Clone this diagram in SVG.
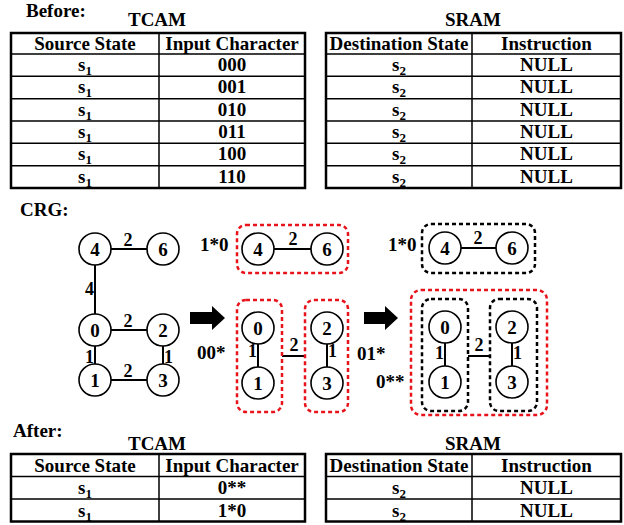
<svg xmlns="http://www.w3.org/2000/svg" width="624" height="525" viewBox="0 0 624 525">
<defs>
<style>
text{font-family:"Liberation Serif","Times New Roman",serif;font-weight:bold;fill:#000}
.t{font-size:19px}
.h{font-size:19px;text-anchor:middle}
.sub{font-size:13px}
.outer{fill:#fff;stroke:#000;stroke-width:2.5}
.grid{stroke:#000;stroke-width:1.5;fill:none}
.node circle{fill:#fff;stroke:#000;stroke-width:1.6}
.node text{font-size:19px;text-anchor:middle}
.edge{stroke:#000;stroke-width:2;fill:none}
.el{font-size:18px}
.lab{font-size:19px}
.red{fill:none;stroke:#e8141c;stroke-width:2.5;stroke-dasharray:4 3}
.blk{fill:none;stroke:#000;stroke-width:2.5;stroke-dasharray:4 3}
</style>
</defs>
<rect width="624" height="525" fill="#fff"/>

<!-- Before section -->
<text class="t" x="26" y="17">Before:</text>
<text class="h" x="157" y="26">TCAM</text>
<text class="h" x="473" y="26">SRAM</text>

<g id="tcam-before">
<rect class="outer" x="11" y="33" width="294" height="155"/>
<path class="grid" d="M159 33V188M11 54H305M11 76.3H305M11 98.7H305M11 121H305M11 143.3H305M11 165.7H305"/>
<text class="h" x="85" y="50">Source State</text>
<text class="h" x="232" y="50">Input Character</text>
<text class="h" x="85" y="71">s<tspan class="sub" dy="4">1</tspan></text>
<text class="h" x="85" y="93.3">s<tspan class="sub" dy="4">1</tspan></text>
<text class="h" x="85" y="115.7">s<tspan class="sub" dy="4">1</tspan></text>
<text class="h" x="85" y="138">s<tspan class="sub" dy="4">1</tspan></text>
<text class="h" x="85" y="160.3">s<tspan class="sub" dy="4">1</tspan></text>
<text class="h" x="85" y="182.7">s<tspan class="sub" dy="4">1</tspan></text>
<text class="h" x="232" y="71">000</text>
<text class="h" x="232" y="93.3">001</text>
<text class="h" x="232" y="115.7">010</text>
<text class="h" x="232" y="138">011</text>
<text class="h" x="232" y="160.3">100</text>
<text class="h" x="232" y="182.7">110</text>
</g>

<g id="sram-before">
<rect class="outer" x="326" y="33" width="295" height="155"/>
<path class="grid" d="M472 33V188M326 54H621M326 76.3H621M326 98.7H621M326 121H621M326 143.3H621M326 165.7H621"/>
<text class="h" x="399" y="50">Destination State</text>
<text class="h" x="546.5" y="50">Instruction</text>
<text class="h" x="399" y="71">s<tspan class="sub" dy="4">2</tspan></text>
<text class="h" x="399" y="93.3">s<tspan class="sub" dy="4">2</tspan></text>
<text class="h" x="399" y="115.7">s<tspan class="sub" dy="4">2</tspan></text>
<text class="h" x="399" y="138">s<tspan class="sub" dy="4">2</tspan></text>
<text class="h" x="399" y="160.3">s<tspan class="sub" dy="4">2</tspan></text>
<text class="h" x="399" y="182.7">s<tspan class="sub" dy="4">2</tspan></text>
<text class="h" x="546.5" y="71">NULL</text>
<text class="h" x="546.5" y="93.3">NULL</text>
<text class="h" x="546.5" y="115.7">NULL</text>
<text class="h" x="546.5" y="138">NULL</text>
<text class="h" x="546.5" y="160.3">NULL</text>
<text class="h" x="546.5" y="182.7">NULL</text>
</g>

<!-- CRG -->
<text class="t" x="20" y="216">CRG:</text>

<g id="connectors">
<!-- graph 1 -->
<path class="edge" d="M111 249H147M95 265V314M111 330H147M95 346V364M163 346V364M111 380H147"/>
<!-- graph 2 -->
<path class="edge" d="M274 249H311M258 344V367M327 344V367M282 356H305"/>
<!-- graph 3 -->
<path class="edge" d="M461 248H496M445 343V366M512 343V366M468 356H490"/>
<!-- arrows -->
<path d="M190 312H212V306L225 318L212 330V324H190Z" fill="#000"/>
<path d="M364 312H385V306L398 318L385 330V324H364Z" fill="#000"/>
</g>

<g id="edge-labels">
<text class="el" x="128" y="246" text-anchor="middle">2</text>
<text class="el" x="94" y="295" text-anchor="end">4</text>
<text class="el" x="128" y="327" text-anchor="middle">2</text>
<text class="el" x="94" y="363" text-anchor="end">1</text>
<text class="el" x="164" y="363">1</text>
<text class="el" x="128" y="377" text-anchor="middle">2</text>

<text class="el" x="293" y="245" text-anchor="middle">2</text>
<text class="el" x="257" y="357" text-anchor="end">1</text>
<text class="el" x="328" y="357">1</text>
<text class="el" x="294" y="351" text-anchor="middle">2</text>

<text class="el" x="478" y="244" text-anchor="middle">2</text>
<text class="el" x="444" y="359" text-anchor="end">1</text>
<text class="el" x="513" y="359">1</text>
<text class="el" x="479" y="351" text-anchor="middle">2</text>
</g>

<g id="groups">
<rect class="red" x="237" y="225" width="111" height="48" rx="9"/>
<rect class="red" x="237" y="300" width="45" height="112" rx="9"/>
<rect class="red" x="305" y="300" width="43" height="112" rx="9"/>
<rect class="blk" x="422" y="224" width="113" height="49" rx="9"/>
<rect class="red" x="411" y="290" width="136" height="125" rx="10"/>
<rect class="blk" x="422" y="299" width="46" height="112" rx="9"/>
<rect class="blk" x="490" y="299" width="47" height="112" rx="9"/>
</g>

<g id="pattern-labels">
<text class="lab" x="200" y="251">1*0</text>
<text class="lab" x="197" y="359">00*</text>
<text class="lab" x="388" y="251">1*0</text>
<text class="lab" x="357" y="360">01*</text>
<text class="lab" x="376" y="388">0**</text>
</g>

<!-- graph 1 nodes -->
<g id="g1-n4" class="node"><circle cx="95" cy="249" r="16"/><text x="95" y="256">4</text></g>
<g id="g1-n6" class="node"><circle cx="163" cy="249" r="16"/><text x="163" y="256">6</text></g>
<g id="g1-n0" class="node"><circle cx="95" cy="330" r="16"/><text x="95" y="337">0</text></g>
<g id="g1-n2" class="node"><circle cx="163" cy="330" r="16"/><text x="163" y="337">2</text></g>
<g id="g1-n1" class="node"><circle cx="95" cy="380" r="16"/><text x="95" y="387">1</text></g>
<g id="g1-n3" class="node"><circle cx="163" cy="380" r="16"/><text x="163" y="387">3</text></g>

<!-- graph 2 nodes -->
<g id="g2-n4" class="node"><circle cx="258" cy="249" r="16"/><text x="258" y="256">4</text></g>
<g id="g2-n6" class="node"><circle cx="327" cy="249" r="16"/><text x="327" y="256">6</text></g>
<g id="g2-n0" class="node"><circle cx="258" cy="328" r="16"/><text x="258" y="335">0</text></g>
<g id="g2-n1" class="node"><circle cx="258" cy="383" r="16"/><text x="258" y="390">1</text></g>
<g id="g2-n2" class="node"><circle cx="327" cy="328" r="16"/><text x="327" y="335">2</text></g>
<g id="g2-n3" class="node"><circle cx="327" cy="383" r="16"/><text x="327" y="390">3</text></g>

<!-- graph 3 nodes -->
<g id="g3-n4" class="node"><circle cx="445" cy="248" r="16"/><text x="445" y="255">4</text></g>
<g id="g3-n6" class="node"><circle cx="512" cy="248" r="16"/><text x="512" y="255">6</text></g>
<g id="g3-n0" class="node"><circle cx="445" cy="327" r="16"/><text x="445" y="334">0</text></g>
<g id="g3-n1" class="node"><circle cx="445" cy="382" r="16"/><text x="445" y="389">1</text></g>
<g id="g3-n2" class="node"><circle cx="512" cy="327" r="16"/><text x="512" y="334">2</text></g>
<g id="g3-n3" class="node"><circle cx="512" cy="382" r="16"/><text x="512" y="389">3</text></g>

<!-- After section -->
<text class="t" x="13" y="437">After:</text>
<text class="h" x="157" y="450">TCAM</text>
<text class="h" x="473" y="450">SRAM</text>

<g id="tcam-after">
<rect class="outer" x="11" y="454" width="294" height="67.5"/>
<path class="grid" d="M159 454V521.5M11 476.5H305M11 499H305"/>
<text class="h" x="85" y="471.5">Source State</text>
<text class="h" x="232" y="471.5">Input Character</text>
<text class="h" x="85" y="494">s<tspan class="sub" dy="4">1</tspan></text>
<text class="h" x="85" y="516.5">s<tspan class="sub" dy="4">1</tspan></text>
<text class="h" x="232" y="494">0**</text>
<text class="h" x="232" y="516.5">1*0</text>
</g>

<g id="sram-after">
<rect class="outer" x="326" y="454" width="295" height="67.5"/>
<path class="grid" d="M472 454V521.5M326 476.5H621M326 499H621"/>
<text class="h" x="399" y="471.5">Destination State</text>
<text class="h" x="546.5" y="471.5">Instruction</text>
<text class="h" x="399" y="494">s<tspan class="sub" dy="4">2</tspan></text>
<text class="h" x="399" y="516.5">s<tspan class="sub" dy="4">2</tspan></text>
<text class="h" x="546.5" y="494">NULL</text>
<text class="h" x="546.5" y="516.5">NULL</text>
</g>
</svg>
